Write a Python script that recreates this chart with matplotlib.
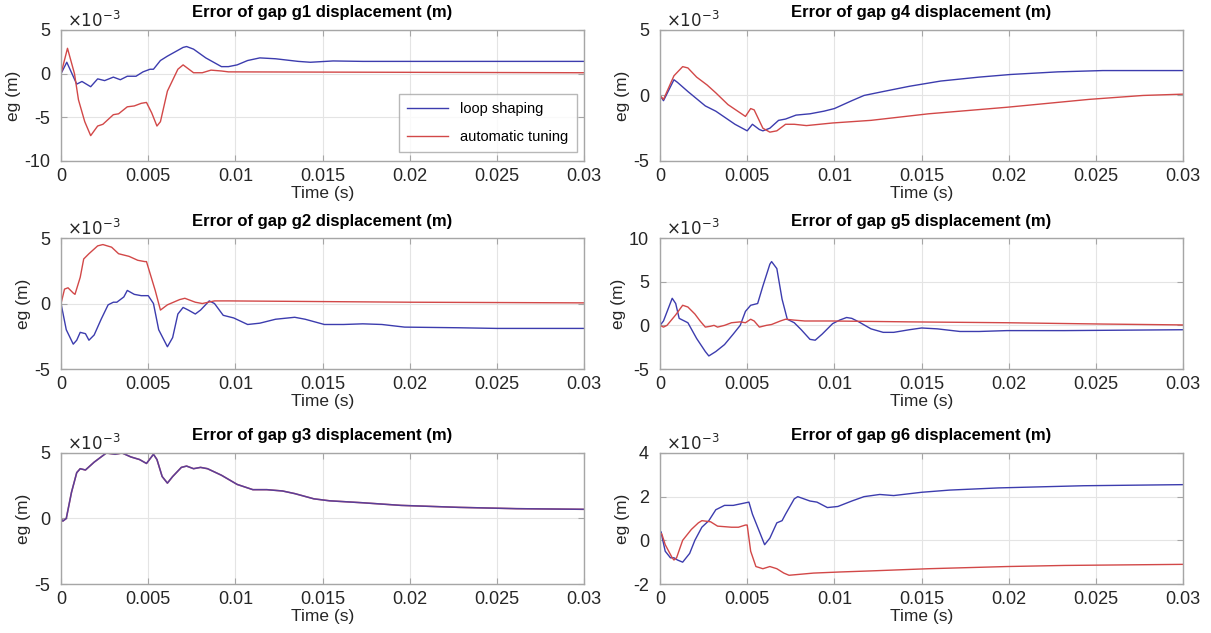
import numpy as np
import matplotlib.pyplot as plt

plt.rcParams['font.family'] = ['Liberation Sans', 'DejaVu Sans']
plt.rcParams['axes.unicode_minus'] = False

# values in units of 1e-3 m, time in ms (converted to s below)
g1_ls_t = [0, 0.33, 0.9, 1.2, 1.7, 2.1, 2.5, 3.0, 3.4, 3.8, 4.3, 4.7, 5.1, 5.3, 5.7, 6.1,
           7.0, 7.2, 7.6, 8.3, 9.2, 9.6, 10.1, 10.7, 11.4, 12.3, 13.6, 14.3, 15.6, 17.3, 30]
g1_ls = [0, 1.3, -1.2, -0.9, -1.5, -0.6, -0.8, -0.4, -0.7, -0.3, -0.3, 0.2, 0.5, 0.5, 1.5, 2.0,
         3.0, 3.1, 2.8, 1.8, 0.8, 0.8, 1.0, 1.5, 1.8, 1.7, 1.4, 1.3, 1.45, 1.4, 1.4]
g1_at_t = [0, 0.37, 0.77, 1.0, 1.36, 1.7, 2.1, 2.4, 3.0, 3.3, 3.8, 4.2, 4.6, 4.9, 5.2, 5.5,
           5.7, 6.1, 6.7, 7.0, 7.2, 7.6, 8.1, 8.6, 9.2, 9.6, 30]
g1_at = [0, 2.9, 0, -3.0, -5.5, -7.1, -6.0, -5.8, -4.7, -4.6, -3.8, -3.7, -3.4, -3.3, -4.5, -6.0,
         -5.5, -2.0, 0.5, 1.0, 0.7, 0.1, 0.1, 0.4, 0.3, 0.2, 0.1]

g2_ls_t = [0, 0.3, 0.7, 0.9, 1.1, 1.4, 1.6, 1.9, 2.3, 2.7, 3.0, 3.2, 3.6, 3.8, 4.2, 4.6, 5.0,
           5.3, 5.6, 6.1, 6.4, 6.7, 7.0, 7.3, 7.7, 8.0, 8.5, 8.8, 9.3, 9.9, 10.7, 11.4, 12.3,
           13.4, 14.0, 15.1, 16.2, 17.3, 18.4, 19.7, 22.8, 25.0, 30]
g2_ls = [0, -2.0, -3.1, -2.8, -2.2, -2.3, -2.8, -2.4, -1.2, -0.1, 0.1, 0.1, 0.5, 1.0, 0.7, 0.6, 0.6,
         0, -2.0, -3.3, -2.6, -0.8, -0.3, -0.5, -0.8, -0.5, 0.2, 0, -0.9, -1.1, -1.6, -1.5, -1.2,
         -1.05, -1.2, -1.6, -1.6, -1.55, -1.6, -1.8, -1.85, -1.9, -1.9]
g2_at_t = [0, 0.2, 0.4, 0.7, 0.8, 1.1, 1.3, 1.6, 2.1, 2.4, 2.9, 3.3, 3.9, 4.4, 4.8, 4.9, 5.4,
           5.7, 6.1, 6.8, 7.1, 7.7, 8.1, 8.8, 9.6, 20.0, 30]
g2_at = [0, 1.1, 1.2, 0.8, 0.7, 2.0, 3.4, 3.8, 4.4, 4.5, 4.3, 3.8, 3.6, 3.3, 3.2, 3.2, 1.0,
         -0.5, -0.1, 0.3, 0.4, 0.1, 0, 0.2, 0.2, 0.1, 0.05]

g3_t = [0, 0.1, 0.3, 0.6, 0.9, 1.1, 1.4, 1.9, 2.2, 2.6, 3.1, 3.5, 4.0, 4.5, 4.9, 5.3, 5.5,
        5.8, 6.1, 6.4, 6.9, 7.2, 7.6, 8.0, 8.4, 9.2, 10.1, 11.0, 11.8, 12.7, 13.4, 14.5, 15.4,
        17.3, 19.5, 22.8, 26.1, 30]
g3 = [0, -0.2, 0, 2.0, 3.5, 3.8, 3.7, 4.3, 4.6, 5.0, 4.9, 5.0, 4.7, 4.5, 4.2, 4.9, 4.5,
      3.2, 2.7, 3.2, 3.9, 4.0, 3.8, 3.9, 3.8, 3.3, 2.6, 2.2, 2.2, 2.1, 1.9, 1.5, 1.35,
      1.2, 1.0, 0.85, 0.75, 0.7]

g4_ls_t = [0, 0.2, 0.8, 1.0, 1.6, 2.6, 3.2, 4.3, 5.0, 5.3, 5.7, 5.9, 6.3, 6.8, 7.2, 7.8, 8.6,
           9.4, 10.0, 11.0, 11.7, 12.8, 14.3, 16.1, 18.3, 20.1, 22.8, 25.4, 30]
g4_ls = [0, -0.4, 1.2, 1.0, 0.3, -0.8, -1.2, -2.2, -2.7, -2.2, -2.6, -2.7, -2.5, -1.9, -1.8, -1.5, -1.4,
         -1.2, -1.0, -0.4, 0, 0.3, 0.7, 1.1, 1.4, 1.6, 1.8, 1.9, 1.9]
g4_at_t = [0, 0.2, 0.8, 1.3, 1.6, 2.1, 2.7, 3.2, 3.9, 4.9, 5.2, 5.4, 5.9, 6.3, 6.7, 7.2, 7.7,
           8.4, 9.9, 12.1, 15.4, 19.9, 24.6, 27.7, 30]
g4_at = [0, -0.3, 1.5, 2.2, 2.1, 1.4, 0.8, 0.2, -0.7, -1.6, -1.0, -1.1, -2.5, -2.8, -2.7, -2.2, -2.2,
         -2.3, -2.1, -1.9, -1.4, -0.9, -0.3, 0, 0.1]

g5_ls_t = [0, 0.2, 0.7, 0.9, 1.1, 1.3, 1.6, 2.1, 2.6, 2.8, 3.2, 3.7, 4.2, 4.6, 4.9, 5.2, 5.6,
           5.9, 6.3, 6.4, 6.7, 7.0, 7.3, 7.7, 8.1, 8.6, 8.9, 9.3, 9.9, 10.3, 10.7, 11.0, 11.4,
           12.1, 12.8, 13.4, 14.3, 15.0, 15.9, 17.2, 18.3, 19.9, 23.2, 30]
g5_ls = [0, 0.5, 3.1, 2.5, 0.8, 0.6, 0.3, -1.5, -3.0, -3.5, -3.0, -2.2, -1.0, 0, 1.6, 2.3, 2.5,
         4.5, 7.0, 7.3, 6.5, 3.0, 0.7, 0.3, -0.5, -1.6, -1.7, -1.0, 0.2, 0.6, 0.9, 0.8, 0.4,
         -0.4, -0.8, -0.8, -0.5, -0.3, -0.4, -0.7, -0.7, -0.6, -0.6, -0.5]
g5_at_t = [0, 0.2, 0.4, 0.9, 1.3, 1.6, 2.0, 2.3, 2.6, 2.9, 3.1, 3.3, 3.7, 4.1, 4.6, 4.9, 5.2,
           5.4, 5.7, 6.1, 6.4, 6.9, 7.2, 7.7, 8.3, 9.9, 14.3, 19.9, 25.4, 30]
g5_at = [0, -0.2, 0, 1.2, 2.3, 2.1, 1.3, 0.5, -0.2, -0.1, 0, -0.2, 0, 0.3, 0.4, 0.3, 0.7,
         0.5, -0.2, 0, 0.1, 0.5, 0.7, 0.6, 0.5, 0.5, 0.4, 0.3, 0.15, 0.05]

g6_ls_t = [0, 0.05, 0.3, 0.6, 0.8, 1.0, 1.3, 1.7, 2.0, 2.4, 2.8, 3.2, 3.7, 4.2, 4.8, 5.1, 5.3,
           5.8, 6.0, 6.3, 6.7, 7.0, 7.2, 7.7, 7.9, 8.6, 9.0, 9.6, 10.2, 11.0, 11.7, 12.6, 13.4,
           15.0, 16.6, 19.4, 24.3, 30]
g6_ls = [0.3, 0.4, -0.5, -0.8, -0.8, -0.9, -1.0, -0.6, 0, 0.6, 0.9, 1.4, 1.6, 1.6, 1.7, 1.75, 1.2,
         0.2, -0.2, 0.1, 0.8, 0.9, 1.2, 1.9, 2.0, 1.8, 1.75, 1.5, 1.55, 1.8, 2.0, 2.1, 2.05,
         2.2, 2.3, 2.4, 2.5, 2.55]
g6_at_t = [0, 0.1, 0.3, 0.7, 0.8, 0.95, 1.3, 1.8, 2.2, 2.4, 2.9, 3.3, 4.1, 4.5, 4.9, 5.0, 5.2,
           5.5, 5.9, 6.3, 6.7, 7.1, 7.4, 8.1, 8.8, 10.3, 12.1, 15.4, 19.9, 23.2, 30]
g6_at = [0.3, 0.3, -0.2, -0.8, -0.9, -0.8, 0, 0.5, 0.8, 0.9, 0.85, 0.65, 0.6, 0.6, 0.7, 0.7, -0.5,
         -1.2, -1.3, -1.2, -1.3, -1.5, -1.6, -1.55, -1.5, -1.45, -1.4, -1.3, -1.2, -1.15, -1.1]

titles = ['Error of gap g1 displacement (m)', 'Error of gap g4 displacement (m)',
          'Error of gap g2 displacement (m)', 'Error of gap g5 displacement (m)',
          'Error of gap g3 displacement (m)', 'Error of gap g6 displacement (m)']
ylims = [(-10, 5), (-5, 5), (-5, 5), (-5, 10), (-5, 5), (-2, 4)]
yticks = [[-10, -5, 0, 5], [-5, 0, 5], [-5, 0, 5], [-5, 0, 5, 10], [-5, 0, 5], [-2, 0, 2, 4]]
xticks = [0, 0.005, 0.01, 0.015, 0.02, 0.025, 0.03]
xticklabels = ['0', '0.005', '0.01', '0.015', '0.02', '0.025', '0.03']

series = [
    ((g1_ls_t, g1_ls), (g1_at_t, g1_at)),
    ((g4_ls_t, g4_ls), (g4_at_t, g4_at)),
    ((g2_ls_t, g2_ls), (g2_at_t, g2_at)),
    ((g5_ls_t, g5_ls), (g5_at_t, g5_at)),
    ((g3_t, g3), (g3_t, g3)),
    ((g6_ls_t, g6_ls), (g6_at_t, g6_at)),
]

blue = '#3c3cae'
red = '#d24848'
edge = '#a6a6a6'
txt = '#262626'

fig = plt.figure(figsize=(12.11, 6.33), dpi=100)
lefts = [0.0504, 0.545]
bottoms = [0.7457, 0.417, 0.0774]
w, h = 0.432, 0.207

for i in range(6):
    row, col = i // 2, i % 2
    ax = fig.add_axes([lefts[col], bottoms[row], w, h])
    (lt, lv), (at, av) = series[i]
    if i == 4:
        ax.plot(np.array(at) / 1000, av, color=red, lw=1.1)
        ax.plot(np.array(lt) / 1000, lv, color=blue, lw=1.1, alpha=0.8)
    else:
        ax.plot(np.array(lt) / 1000, lv, color=blue, lw=1.0, label='loop shaping')
        ax.plot(np.array(at) / 1000, av, color=red, lw=1.0, label='automatic tuning')
    ax.set_xlim(0, 0.03)
    ax.set_ylim(*ylims[i])
    ax.set_xticks(xticks)
    ax.set_xticklabels(xticklabels)
    ax.set_yticks(yticks[i])
    ax.grid(True, color='#e4e4e4', lw=0.8)
    ax.set_axisbelow(True)
    for s in ax.spines.values():
        s.set_color(edge)
        s.set_linewidth(1.0)
    ax.tick_params(direction='in', length=4, width=0.8, color=edge, labelcolor=txt,
                   labelsize=13, top=True, right=True)
    ax.tick_params(axis='x', pad=5)
    ax.tick_params(axis='y', pad=8)
    ax.set_title(titles[i], fontsize=12, fontweight='bold', color='black', pad=9)
    ax.set_xlabel('Time (s)', fontsize=12.5, color=txt, labelpad=1)
    ax.set_ylabel('eg (m)', fontsize=12.5, color=txt, labelpad=2)
    ax.text(0.012, 1.0, r'$\times10^{-3}$', transform=ax.transAxes, fontsize=12,
            color=txt, ha='left', va='bottom')
    if i == 0:
        leg = ax.legend(loc='lower right', fontsize=10.5, handlelength=2.8, frameon=True,
                        fancybox=False, edgecolor=edge, borderpad=0.6, labelspacing=0.9,
                        bbox_to_anchor=(1.0, 0.01))
        leg.get_frame().set_linewidth(1.0)

fig.savefig('out.png', dpi=100)
